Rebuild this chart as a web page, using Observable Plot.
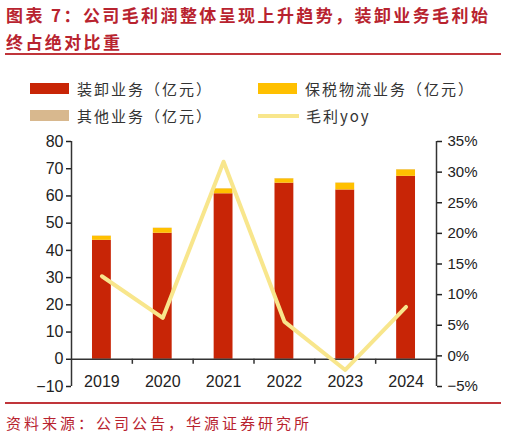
<!DOCTYPE html>
<html>
<head>
<meta charset="utf-8">
<script src="https://cdn.jsdelivr.net/npm/d3@7"></script>
<script src="https://cdn.jsdelivr.net/npm/@observablehq/plot@0.6"></script>
<style>
  body { margin: 0; background: #fff; }
  #page { position: relative; width: 506px; height: 436px; overflow: hidden;
          font-family: "Noto Sans CJK SC", "Noto Sans", sans-serif; }
  .title { position: absolute; left: 6px; top: 1px; font-size: 17px; font-weight: bold;
           line-height: 27px; letter-spacing: 2.4px; color: #B8232F; white-space: nowrap; }
  .rule { position: absolute; left: 5px; width: 496px; height: 2px; background: #C0353A; }
  .legend { position: absolute; font-size: 15px; letter-spacing: 2px; color: #333;
            line-height: 27px; white-space: nowrap; display: flex; align-items: center; }
  .sw { display: inline-block; width: 39px; height: 11px; margin-right: 8px; }
  .ln { display: inline-block; width: 41px; height: 4px; margin-right: 7px; }
  #chart { position: absolute; left: 0; top: 128px; }
  .source { position: absolute; left: 6px; top: 412px; font-size: 15px; letter-spacing: 3px;
            line-height: 22px; color: #B8232F; white-space: nowrap; }
</style>
</head>
<body>
<div id="page">
  <div class="title">图表 7：公司毛利润整体呈现上升趋势，装卸业务毛利始<br>终占绝对比重</div>
  <div class="rule" style="top:53px"></div>
  <div id="legend"></div>
  <div id="chart"></div>
  <div class="rule" style="top:402px"></div>
  <div class="source">资料来源：公司公告，华源证券研究所</div>
</div>
<script>
const years = [2019, 2020, 2021, 2022, 2023, 2024]
const loading = [43.7, 46.3, 60.8, 64.7, 62.2, 67.2]   // 装卸业务
const bonded = [1.5, 1.8, 1.8, 1.6, 2.5, 2.4]          // 保税物流业务
const other = [0.1, 0.1, 0.1, 0.1, 0.1, 0.1]           // 其他业务
const yoy = [13.0, 6.2, 31.7, 5.6, -2.3, 8.0]          // 毛利yoy (%)

const leftTicks = [-10, 0, 10, 20, 30, 40, 50, 60, 70, 80]
const rightTicks = [-5, 0, 5, 10, 15, 20, 25, 30, 35]

const names = ['装卸业务（亿元）', '保税物流业务（亿元）', '其他业务（亿元）']
const colors = ['#C82506', '#FFC000', '#D8B88E']
const lineName = '毛利yoy'
const lineColor = '#F8E68C'

// right axis (%) mapped onto the left scale
const toLeft = p => -10 + (p + 5) * 2.25
const fromLeft = v => Math.round((v + 10) / 2.25 - 5)

const rows = [loading, bonded, other].flatMap((vals, k) =>
  years.map((yr, i) => ({year: yr, name: names[k], value: vals[i]})))
const yoyRows = years.map((yr, i) => ({year: yr, yoy: yoy[i]}))

// legend
const legend = d3.select('#legend')
const items = [
  {label: names[0], color: colors[0], left: 30, top: 75},
  {label: names[1], color: colors[1], left: 258, top: 75},
  {label: names[2], color: colors[2], left: 30, top: 102},
  {label: lineName, color: lineColor, left: 258, top: 102, line: true},
]
items.forEach(it => {
  const row = legend.append('div').attr('class', 'legend')
    .style('left', it.left + 'px').style('top', it.top + 'px')
  row.append('span').attr('class', it.line ? 'ln' : 'sw').style('background', it.color)
  row.append('span').text(it.label)
})

let chart = Plot.plot({
  width: 506,
  height: 270,
  marginTop: 13,
  marginBottom: 12,
  marginLeft: 71,
  marginRight: 70,
  style: {fontFamily: 'Liberation Sans, Arial, sans-serif', fontSize: '16px', color: '#222', background: 'transparent'},
  x: {domain: [2018.5, 2024.5], axis: null},
  y: {domain: [-10, 80]},
  color: {domain: names, range: colors},
  marks: [
    Plot.rectY(rows, {
      x1: d => d.year - 0.155,
      x2: d => d.year + 0.155,
      y: 'value',
      fill: 'name',
    }),
    Plot.ruleY([0], {stroke: '#333', strokeWidth: 1.5}),
    Plot.ruleX(years.slice(0, -1), {x: d => d + 0.5, y1: 0, y2: -1.85, stroke: '#333', strokeWidth: 1.5}),
    Plot.ruleX([2018.5, 2024.5], {y1: -10, y2: 80, stroke: '#333', strokeWidth: 1.5}),
    Plot.axisY({anchor: 'left', ticks: leftTicks, tickSize: 5, tickPadding: 3, label: null, strokeWidth: 1.5, color: '#222'}),
    Plot.axisY({
      anchor: 'right',
      ticks: rightTicks.map(toLeft),
      tickFormat: v => { const p = fromLeft(v); return (p < 0 ? '\u2212' + Math.abs(p) : p) + '%' },
      tickSize: 5, tickPadding: 6, label: null, strokeWidth: 1.5, color: '#222', fontSize: 15,
    }),
    Plot.lineY(yoyRows, {x: 'year', y: d => toLeft(d.yoy), stroke: lineColor, strokeWidth: 4}),
    Plot.text(years, {x: d => d, text: d => String(d), frameAnchor: 'bottom', dy: -5, lineAnchor: 'middle', fill: '#222'}),
  ],
})
d3.select('#chart').append(() => chart)
</script>
</body>
</html>
